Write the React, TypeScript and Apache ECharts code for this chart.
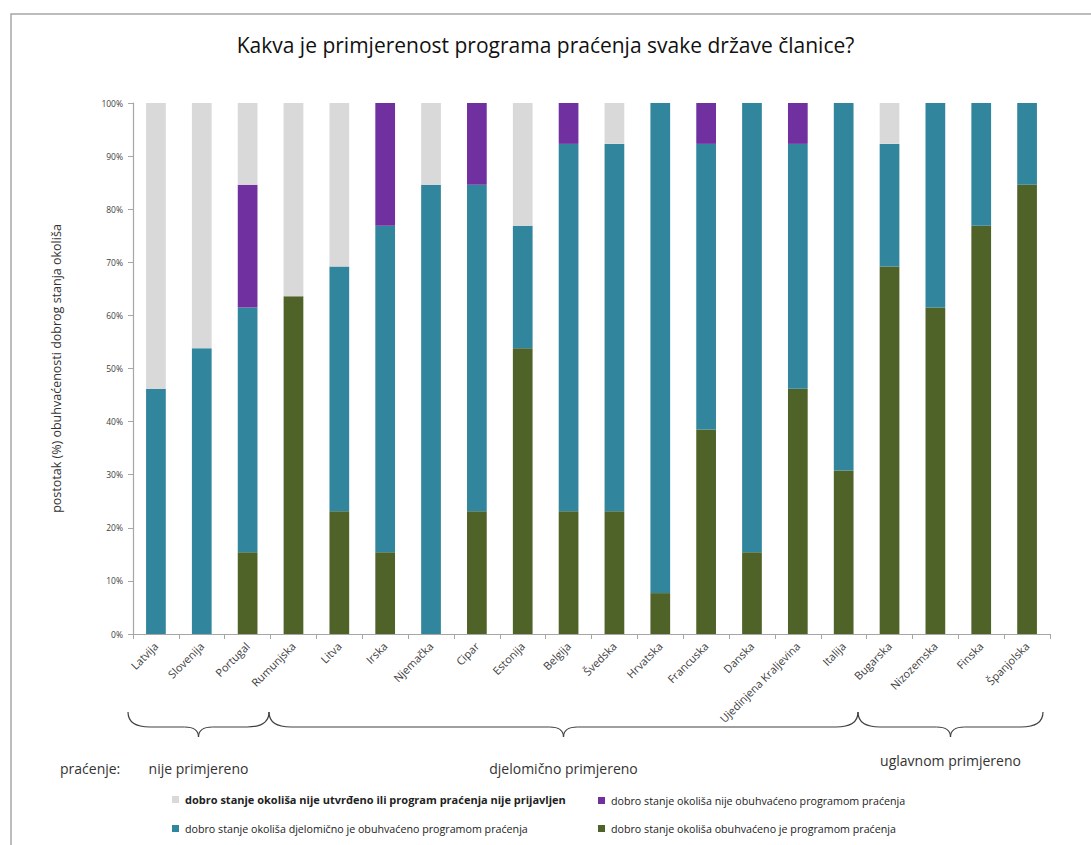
import React, { useEffect, useRef } from "react";
import * as echarts from "echarts";

const categories = [
  "Latvija", "Slovenija", "Portugal", "Rumunjska", "Litva", "Irska", "Njemačka", "Cipar",
  "Estonija", "Belgija", "Švedska", "Hrvatska", "Francuska", "Danska", "Ujedinjena Kraljevina",
  "Italija", "Bugarska", "Nizozemska", "Finska", "Španjolska",
];

const seriesNames = [
  "dobro stanje okoliša obuhvaćeno je programom praćenja",
  "dobro stanje okoliša djelomično je obuhvaćeno programom praćenja",
  "dobro stanje okoliša nije obuhvaćeno programom praćenja",
  "dobro stanje okoliša nije utvrđeno ili program praćenja nije prijavljen",
];

const covered = [0, 0, 15.4, 63.6, 23.1, 15.4, 0, 23.1, 53.8, 23.1, 23.1, 7.7, 38.5, 15.4, 46.2, 30.8, 69.2, 61.5, 76.9, 84.6];
const partly = [46.2, 53.8, 46.1, 0, 46.1, 61.5, 84.6, 61.5, 23.1, 69.2, 69.2, 92.3, 53.8, 84.6, 46.1, 69.2, 23.1, 38.5, 23.1, 15.4];
const notCovered = [0, 0, 23.1, 0, 0, 23.1, 0, 15.4, 0, 7.7, 0, 0, 7.7, 0, 7.7, 0, 0, 0, 0, 0];
const notDetermined = [53.8, 46.2, 15.4, 36.4, 30.8, 0, 15.4, 0, 23.1, 0, 7.7, 0, 0, 0, 0, 0, 7.7, 0, 0, 0];

const yTicks = [0, 10, 20, 30, 40, 50, 60, 70, 80, 90, 100];

const groupLabels = ["nije primjereno", "djelomično primjereno", "uglavnom primjereno"];
const monitoringLabel = "praćenje:";
const titleText = "Kakva je primjerenost programa praćenja svake države članice?";
const yAxisName = "postotak (%) obuhvaćenosti dobrog stanja okoliša";

const colors = ["#4f6228", "#31859c", "#7030a0", "#d9d9d9"];
const FONT = "'Open Sans', 'Noto Sans', sans-serif";

function brace(x1: number, x2: number, yTop: number, yMid: number, yBot: number, color: string) {
  const xc = (x1 + x2) / 2;
  const r = 22;
  const t = 14;
  const st = { stroke: color, lineWidth: 1.2, fill: "none" };
  return [
    { type: "bezierCurve", shape: { x1, y1: yTop, cpx1: x1, cpy1: yMid, x2: x1 + r, y2: yMid }, style: st, silent: true },
    { type: "line", shape: { x1: x1 + r, y1: yMid, x2: xc - t, y2: yMid }, style: st, silent: true },
    { type: "bezierCurve", shape: { x1: xc - t, y1: yMid, cpx1: xc, cpy1: yMid, x2: xc, y2: yBot }, style: st, silent: true },
    { type: "bezierCurve", shape: { x1: xc, y1: yBot, cpx1: xc, cpy1: yMid, x2: xc + t, y2: yMid }, style: st, silent: true },
    { type: "line", shape: { x1: xc + t, y1: yMid, x2: x2 - r, y2: yMid }, style: st, silent: true },
    { type: "bezierCurve", shape: { x1: x2 - r, y1: yMid, cpx1: x2, cpy1: yMid, x2, y2: yTop }, style: st, silent: true },
  ];
}

export default function App() {
  const ref = useRef<HTMLDivElement>(null);
  useEffect(() => {
    document.body.style.margin = "0";
    const chart = echarts.init(ref.current!, undefined, { renderer: "svg" });
    const values = [covered, partly, notCovered, notDetermined];

    const braceEnds = [128, 269, 858, 1043];
    const labelY = [768, 768, 760];
    const graphic: any[] = [
      { type: "rect", shape: { x: 11, y: 14, width: 1200, height: 1000 }, style: { fill: "none", stroke: "#a6a6a6", lineWidth: 1.5 }, silent: true },
      { type: "text", x: 60, y: 768, style: { text: monitoringLabel, font: `14px ${FONT}`, fill: "#333", textVerticalAlign: "middle" } },
    ];
    for (let i = 0; i < 3; i++) {
      graphic.push(...brace(braceEnds[i], braceEnds[i + 1], 712, 727, 737, "#404040"));
      graphic.push({
        type: "text",
        x: (braceEnds[i] + braceEnds[i + 1]) / 2,
        y: labelY[i],
        style: { text: groupLabels[i], font: `14px ${FONT}`, fill: "#333", textAlign: "center", textVerticalAlign: "middle" },
      });
    }

    const legendPos = [
      { left: 598, top: 823 },
      { left: 172, top: 823 },
      { left: 598, top: 795 },
      { left: 172, top: 794 },
    ];

    chart.setOption({
      animation: false,
      textStyle: { fontFamily: FONT },
      title: {
        text: titleText,
        left: "center",
        top: 29,
        textStyle: { fontSize: 21, fontWeight: "normal", color: "#111", fontFamily: FONT },
      },
      legend: seriesNames.map((n, i) => ({
        data: [n],
        left: legendPos[i].left,
        top: legendPos[i].top,
        padding: 0,
        itemWidth: 7,
        itemHeight: 7,
        itemGap: 4,
        icon: "rect",
        selectedMode: false,
        textStyle: {
          fontSize: i === 3 ? 11 : 10.7,
          fontWeight: i === 3 ? "bold" : "normal",
          color: "#222",
          fontFamily: FONT,
          padding: [0, 0, 0, 1],
        },
      })),
      grid: { left: 133, right: 41, top: 103, bottom: 211 },
      xAxis: {
        type: "category",
        data: categories,
        axisLine: { lineStyle: { color: "#a6a6a6", width: 1.2 } },
        axisTick: { show: true, length: 5, lineStyle: { color: "#a6a6a6" } },
        axisLabel: { rotate: 45, fontSize: 11, color: "#404040", margin: 10, interval: 0 },
      },
      yAxis: {
        type: "value",
        min: 0,
        max: 100,
        interval: 10,
        name: yAxisName,
        nameLocation: "middle",
        nameRotate: 90,
        nameGap: 70,
        nameTextStyle: { fontSize: 12.5, color: "#333" },
        axisLine: { show: true, lineStyle: { color: "#a6a6a6", width: 1.2 } },
        axisTick: { show: true, length: 5, lineStyle: { color: "#a6a6a6" } },
        splitLine: { show: false },
        axisLabel: {
          fontSize: 8.5,
          color: "#404040",
          margin: 10,
          formatter: (v: number) => (yTicks.includes(v) ? `${v}%` : ""),
        },
      },
      series: seriesNames.map((n, i) => ({
        name: n,
        type: "bar",
        stack: "total",
        barWidth: "43%",
        data: values[i],
        itemStyle: { color: colors[i] },
      })),
      graphic,
    });
    return () => chart.dispose();
  }, []);
  return <div ref={ref} style={{ width: 1091, height: 845 }} />;
}
